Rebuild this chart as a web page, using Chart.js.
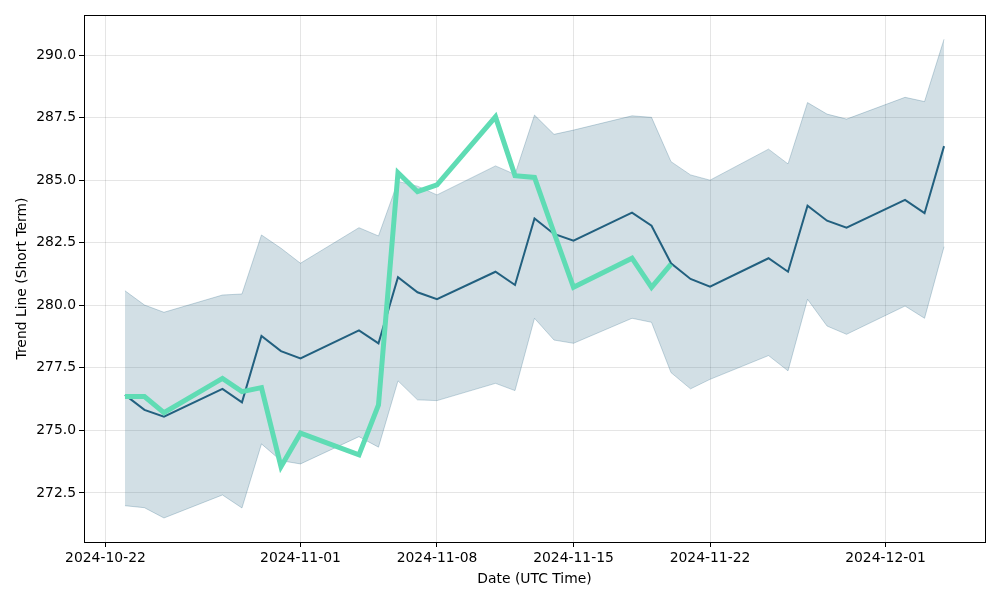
<!DOCTYPE html>
<html>
<head>
<meta charset="utf-8">
<script src="https://cdn.jsdelivr.net/npm/chart.js@4/dist/chart.umd.min.js"></script>
<style>
	html, body { margin: 0; padding: 0; background: #fff; }
	#wrap { width: 1000px; height: 600px; }
</style>
</head>
<body>
<div id="wrap"><canvas id="chart" width="1000" height="600"></canvas></div>
<script>
var dates = ['2024-10-23', '2024-10-24', '2024-10-25', '2024-10-28', '2024-10-29', '2024-10-30', '2024-10-31', '2024-11-01',
	'2024-11-04', '2024-11-05', '2024-11-06', '2024-11-07', '2024-11-08', '2024-11-11', '2024-11-12', '2024-11-13',
	'2024-11-14', '2024-11-15', '2024-11-18', '2024-11-19', '2024-11-20', '2024-11-21', '2024-11-22', '2024-11-25',
	'2024-11-26', '2024-11-27', '2024-11-28', '2024-11-29', '2024-12-02', '2024-12-03', '2024-12-04'];

var trend = [276.42, 275.82, 275.55, 276.66, 276.12, 278.77, 278.17, 277.88,
	279.00, 278.48, 281.12, 280.52, 280.24, 281.34, 280.81, 283.47,
	282.85, 282.58, 283.70, 283.18, 281.68, 281.05, 280.74, 281.88,
	281.34, 283.98, 283.38, 283.10, 284.21, 283.68, 286.36];

var upper = [280.58, 280.01, 279.72, 280.41, 280.45, 282.81, 282.28, 281.68,
	283.10, 282.77, 284.95, 284.76, 284.41, 285.57, 285.23, 287.60,
	286.83, 287.00, 287.57, 287.51, 285.74, 285.21, 285.00, 286.24,
	285.65, 288.10, 287.64, 287.44, 288.31, 288.14, 290.63];

var lower = [271.99, 271.91, 271.50, 272.42, 271.90, 274.46, 273.79, 273.66,
	274.75, 274.33, 276.98, 276.22, 276.19, 276.88, 276.59, 279.48,
	278.61, 278.48, 279.48, 279.32, 277.31, 276.66, 277.04, 277.99,
	277.38, 280.24, 279.17, 278.84, 279.97, 279.48, 282.34];

// actual price, only known up to 2024-11-20
var price = [276.35, 276.35, 275.71, 277.08, 276.55, 276.71, 273.55, 274.89,
	274.02, 276.02, 285.30, 284.54, 284.81, 287.53, 285.18, 285.11,
	282.90, 280.72, 281.88, 280.72, 281.64];

var xTickLabels = ['2024-10-22', '2024-11-01', '2024-11-08', '2024-11-15', '2024-11-22', '2024-12-01'];
var yTicks = [272.5, 275.0, 277.5, 280.0, 282.5, 285.0, 287.5, 290.0];

var DAY = 86400000;

function toMs(s) {
	var p = s.split('-');
	return Date.UTC(+p[0], +p[1] - 1, +p[2]);
}

function pts(vals) {
	return vals.map(function (v, i) { return { x: toMs(dates[i]), y: v }; });
}

function fmtDate(ms) {
	var d = new Date(ms);
	var m = d.getUTCMonth() + 1, day = d.getUTCDate();
	return d.getUTCFullYear() + '-' + (m < 10 ? '0' : '') + m + '-' + (day < 10 ? '0' : '') + day;
}

var xMin = toMs(dates[0]) - 2.1 * DAY;
var xMax = toMs(dates[dates.length - 1]) + 2.1 * DAY;

var frame = {
	id: 'frame',
	afterDatasetsDraw: function (chart) {
		var a = chart.chartArea, ctx = chart.ctx;
		ctx.save();
		ctx.strokeStyle = '#000';
		ctx.lineWidth = 1;
		ctx.strokeRect(Math.round(a.left) + 0.5, Math.round(a.top) + 0.5, Math.round(a.right - a.left), Math.round(a.bottom - a.top));
		ctx.restore();
	}
};

var font = { family: 'DejaVu Sans', size: 13.9 };

new Chart(document.getElementById('chart'), {
	type: 'line',
	data: {
		datasets: [
			{ label: 'Price', data: pts(price), borderColor: '#5fdcb4', borderWidth: 5, pointRadius: 0, fill: false, tension: 0, order: 0 },
			{ label: 'Trend', data: pts(trend), borderColor: '#22607f', borderWidth: 2, pointRadius: 0, fill: false, tension: 0, order: 1 },
			{ label: 'Lower', data: pts(lower), borderColor: 'rgba(31,95,127,0.25)', borderWidth: 1, pointRadius: 0, fill: false, tension: 0, order: 2 },
			{ label: 'Upper', data: pts(upper), borderColor: 'rgba(31,95,127,0.25)', borderWidth: 1, pointRadius: 0, fill: '-1', backgroundColor: 'rgba(31,95,127,0.2)', tension: 0, order: 3 }
		]
	},
	options: {
		responsive: false,
		animation: false,
		layout: { padding: { left: 10, right: 15, top: 15, bottom: 0 } },
		plugins: { legend: { display: false }, tooltip: { enabled: false } },
		scales: {
			x: {
				type: 'linear', min: xMin, max: xMax,
				afterBuildTicks: function (s) { s.ticks = xTickLabels.map(function (t) { return { value: toMs(t) }; }); },
				afterFit: function (s) { s.height = 58; },
				ticks: { color: '#000', font: font, maxRotation: 0, autoSkip: false, padding: 3, callback: function (v) { return fmtDate(v); } },
				grid: { color: 'rgba(0,0,0,0.1)', tickColor: '#000', tickLength: 5, drawTicks: true },
				border: { display: false },
				title: { display: true, text: 'Date (UTC Time)', color: '#000', font: font, padding: { top: 0, bottom: 12 } }
			},
			y: {
				min: 270.54, max: 291.6,
				afterBuildTicks: function (s) { s.ticks = yTicks.map(function (v) { return { value: v }; }); },
				afterFit: function (s) { s.width = 74; },
				ticks: { color: '#000', font: font, padding: 3, callback: function (v) { return v.toFixed(1); } },
				grid: { color: 'rgba(0,0,0,0.1)', tickColor: '#000', tickLength: 5, drawTicks: true },
				border: { display: false },
				title: { display: true, text: 'Trend Line (Short Term)', color: '#000', font: font, padding: { bottom: 4 } }
			}
		}
	},
	plugins: [frame]
});
</script>
</body>
</html>
